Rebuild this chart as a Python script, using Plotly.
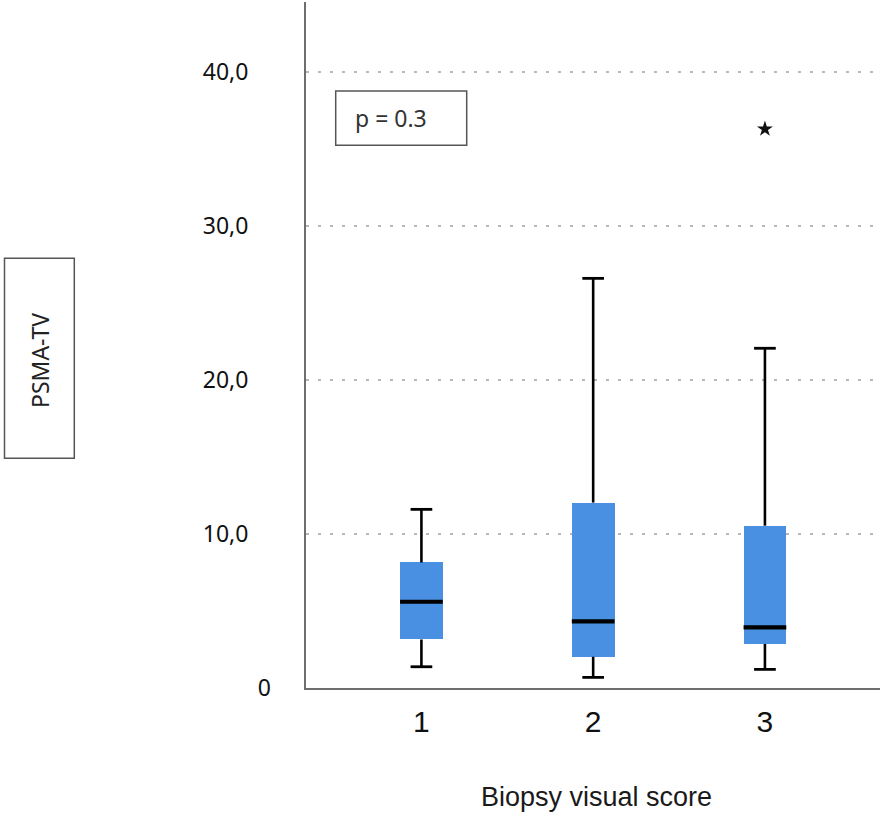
import plotly.graph_objects as go

# ---- data ----
categories = ["1", "2", "3"]
cat_pos = [1, 2, 3]
lower_whisker = [1.38, 0.69, 1.21]
q1 = [3.15, 2.03, 2.86]
median = [5.60, 4.33, 3.94]
q3 = [8.15, 12.04, 10.54]
upper_whisker = [11.60, 26.60, 22.06]
outlier_x = [3]
outlier_y = [36.3]
y_tickvals = [10, 20, 30, 40]
y_ticktext = ["10,0", "20,0", "30,0", "40,0"]
x_title = "Biopsy visual score"
y_title = "PSMA-TV"
p_text = "p = 0.3"

BLUE = "#4A90E2"
BOX_W = 0.2485

fig = go.Figure()

# box bodies
fig.add_trace(go.Bar(
    x=cat_pos, y=[b - a for a, b in zip(q1, q3)], base=q1, width=BOX_W,
    marker=dict(color=BLUE, line=dict(width=0)), hoverinfo="skip", showlegend=False))

# whiskers
wx, wy = [], []
for x, lo, a, b, hi in zip(cat_pos, lower_whisker, q1, q3, upper_whisker):
    wx += [x, x, None, x, x, None]
    wy += [b, hi, None, a, lo, None]
fig.add_trace(go.Scatter(x=wx, y=wy, mode="lines",
                         line=dict(color="black", width=2.6), showlegend=False, hoverinfo="skip"))

# whisker caps (line-ew length = 1.4 * size)
fig.add_trace(go.Scatter(
    x=cat_pos + cat_pos, y=upper_whisker + lower_whisker, mode="markers",
    marker=dict(symbol="line-ew", size=15.5, line=dict(color="black", width=2.8)),
    showlegend=False, hoverinfo="skip"))

# medians
fig.add_trace(go.Scatter(
    x=cat_pos, y=median, mode="markers",
    marker=dict(symbol="line-ew", size=30.5, line=dict(color="black", width=4.2)),
    showlegend=False, hoverinfo="skip"))

# outlier
fig.add_trace(go.Scatter(
    x=outlier_x, y=outlier_y, mode="markers",
    marker=dict(symbol="star", size=12, color="#111", line=dict(width=0)),
    showlegend=False, hoverinfo="skip"))

# ---- layout geometry ----
W, H = 886, 817
L, R, T, B = 306, 880, 2, 688
px_per_unit = (688.3 - 72.3) / 40.0
y_top = (B - T) / px_per_unit
plot_w, plot_h = R - L, B - T

def px_x(px):
    return (px - L) / plot_w

def px_y(py):
    return (B - py) / plot_h

fig.update_layout(
    width=W, height=H,
    margin=dict(l=L, r=W - R, t=T, b=H - B),
    paper_bgcolor="white", plot_bgcolor="white",
    bargap=0,
    xaxis=dict(
        range=[0.328, 3.67], tickvals=cat_pos, ticktext=categories,
        showgrid=False, zeroline=False, showline=True, linecolor="#6e6e6e", linewidth=2,
        ticks="", ticklabelstandoff=6,
        tickfont=dict(family="Liberation Sans, Arial", size=30, color="#111"),
        fixedrange=True),
    yaxis=dict(
        range=[0, y_top], tickvals=y_tickvals, ticktext=y_ticktext,
        showgrid=True, gridcolor="#b8b8b8", gridwidth=2, griddash="3px,9px",
        zeroline=False, showline=True, linecolor="#6e6e6e", linewidth=2,
        ticks="", ticklabelstandoff=51,
        tickfont=dict(family="Noto Sans", size=23, color="#111"),
        fixedrange=True),
    yaxis2=dict(
        range=[0, y_top], overlaying="y", side="left", anchor="x",
        tickvals=[0], ticktext=["0"], showgrid=False, zeroline=False, showline=False,
        ticks="", ticklabelstandoff=34,
        tickfont=dict(family="Noto Sans", size=23, color="#111"),
        fixedrange=True),
)

# invisible trace to activate yaxis2
fig.add_trace(go.Scatter(x=[1], y=[0], yaxis="y2", mode="markers",
                         marker=dict(opacity=0), showlegend=False, hoverinfo="skip"))

# x-axis title
fig.add_annotation(text=x_title, xref="paper", yref="paper",
                   x=px_x(596), y=px_y(797), xanchor="center", yanchor="middle",
                   showarrow=False,
                   font=dict(family="Liberation Sans, Arial", size=27, color="#1a1a1a"))

# y-axis title in a box
fig.add_shape(type="rect", xref="paper", yref="paper",
              x0=px_x(4.5), x1=px_x(74.3), y0=px_y(458.3), y1=px_y(258.3),
              line=dict(color="#555", width=1.5), fillcolor="rgba(0,0,0,0)")
fig.add_annotation(text=y_title, xref="paper", yref="paper",
                   x=px_x(39.5), y=px_y(360.5), xanchor="center", yanchor="middle",
                   textangle=-90, showarrow=False,
                   font=dict(family="Noto Sans", size=23, color="#222"))

# p-value box
fig.add_shape(type="rect", xref="paper", yref="paper",
              x0=px_x(335.7), x1=px_x(466.7), y0=px_y(145.3), y1=px_y(91),
              line=dict(color="#555", width=1.5), fillcolor="white")
fig.add_annotation(text=p_text, xref="paper", yref="paper",
                   x=px_x(353), y=px_y(118), xanchor="left", yanchor="middle",
                   showarrow=False,
                   font=dict(family="Noto Sans", size=23, color="#333"))

fig.write_html("out.html", config={"displayModeBar": False},
               post_script="document.body.style.margin='0';document.body.style.overflow='hidden';")
